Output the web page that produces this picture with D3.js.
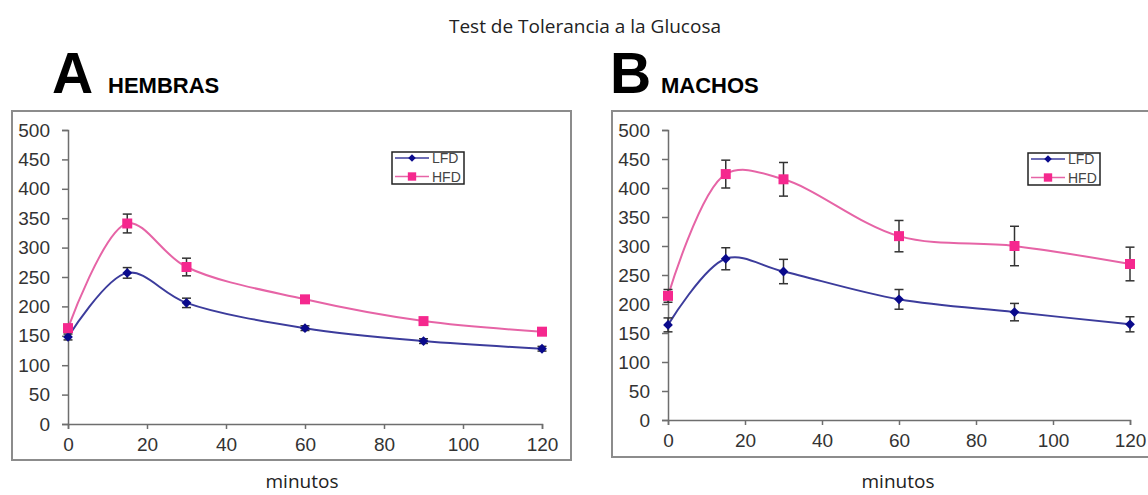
<!DOCTYPE html>
<html>
<head>
<meta charset="utf-8">
<script src="https://cdn.jsdelivr.net/npm/d3@7"></script>
<style>
  body { margin: 0; background: #fff; }
  svg { display: block; }
  .tick text { font-family: "Liberation Sans", Arial, sans-serif; }
</style>
</head>
<body>
<div id="chart"></div>
<script>
// Glucose tolerance test data (mg/dL)
const minutes = [0, 15, 30, 60, 90, 120];
const seriesNames = ['LFD', 'HFD'];

const hembrasLFD = [148, 257, 206, 163, 141, 128];
const hembrasLFDErr = [5, 9, 8, 4, 4, 4];
const hembrasHFD = [163, 341, 267, 212, 175, 157];
const hembrasHFDErr = [6, 16, 15, 6, 4, 4];

const machosLFD = [164, 278, 256, 208, 186, 165];
const machosLFDErr = [12, 19, 21, 17, 15, 13];
const machosHFD = [214, 424, 415, 317, 300, 269];
const machosHFDErr = [11, 24, 29, 27, 34, 29];

const yTicks = [0, 50, 100, 150, 200, 250, 300, 350, 400, 450, 500];
const xTicks = [0, 20, 40, 60, 80, 100, 120];

const width = 1148;
const height = 495;
const colors = {
    LFD: { line: '#3c3c9c', mark: '#0a0a8c' },
    HFD: { line: '#e664a6', mark: '#f5288e' }
};

const svg = d3.select('#chart')
    .append('svg')
    .attr('width', width)
    .attr('height', height);

// Main title
svg.append('text')
    .attr('x', 585)
    .attr('y', 33)
    .attr('text-anchor', 'middle')
    .style('font-family', '"Open Sans", sans-serif')
    .style('font-size', '19px')
    .style('fill', '#222')
    .text('Test de Tolerancia a la Glucosa');

// diamond drawn as a square turned 45 degrees (wider than d3's diamond)
function marker(name, size) {
    return d3.symbol().type(d3.symbolSquare).size(size)();
}

function drawPanel(p) {
    const g = svg.append('g');

    // Panel letter and label
    g.append('text')
        .attr('x', p.letterX)
        .attr('y', 93)
        .style('font-family', '"Liberation Sans", Arial, sans-serif')
        .style('font-weight', 'bold')
        .style('font-size', '57px')
        .style('fill', '#000')
        .text(p.letter);
    g.append('text')
        .attr('x', p.labelX)
        .attr('y', 93)
        .style('font-family', '"Liberation Sans", Arial, sans-serif')
        .style('font-weight', 'bold')
        .style('font-size', '22px')
        .style('fill', '#000')
        .text(p.label);

    // Plot frame
    g.append('rect')
        .attr('x', p.box[0])
        .attr('y', p.box[1])
        .attr('width', p.box[2])
        .attr('height', p.box[3])
        .style('fill', '#fff')
        .style('stroke', '#8c8c8c')
        .style('stroke-width', 2);

    const xScale = d3.scaleLinear()
        .domain([0, 120])
        .range(p.xRange);
    const yScale = d3.scaleLinear()
        .domain([0, 500])
        .range(p.yRange);

    const xAxis = d3.axisBottom(xScale)
        .tickValues(xTicks)
        .tickSize(5)
        .tickSizeOuter(5)
        .tickPadding(9);
    const yAxis = d3.axisLeft(yScale)
        .tickValues(yTicks)
        .tickSize(6)
        .tickSizeOuter(6)
        .tickPadding(12);

    const gx = g.append('g')
        .attr('transform', `translate(0,${p.yRange[0]})`)
        .call(xAxis);
    const gy = g.append('g')
        .attr('transform', `translate(${p.xRange[0]},0)`)
        .call(yAxis);

    [gx, gy].forEach(ax => {
        ax.select('.domain').style('stroke', '#6e6e6e').style('stroke-width', 1.5);
        ax.selectAll('.tick line').style('stroke', '#6e6e6e').style('stroke-width', 1.5);
        ax.selectAll('.tick text')
            .style('font-size', '19px')
            .style('fill', '#333');
    });

    const line = d3.line()
        .x(d => xScale(d.t))
        .y(d => yScale(d.v))
        .curve(d3.curveCatmullRom.alpha(0.5));

    p.series.forEach(s => {
        const pts = minutes.map((t, i) => ({ t: t, v: s.values[i], e: s.errors[i] }));
        const c = colors[s.name];
        const isLFD = s.name === 'LFD';

        g.append('path')
            .datum(pts)
            .attr('d', line)
            .style('fill', 'none')
            .style('stroke', c.line)
            .style('stroke-width', 2);

        // Error bars
        const eb = g.append('g')
            .selectAll('g')
            .data(pts)
            .join('g')
            .style('stroke', '#333')
            .style('stroke-width', 1.5);
        eb.append('line')
            .attr('x1', d => xScale(d.t))
            .attr('x2', d => xScale(d.t))
            .attr('y1', d => yScale(d.v - d.e))
            .attr('y2', d => yScale(d.v + d.e));
        eb.append('line')
            .attr('x1', d => xScale(d.t) - 4.5)
            .attr('x2', d => xScale(d.t) + 4.5)
            .attr('y1', d => yScale(d.v + d.e))
            .attr('y2', d => yScale(d.v + d.e));
        eb.append('line')
            .attr('x1', d => xScale(d.t) - 4.5)
            .attr('x2', d => xScale(d.t) + 4.5)
            .attr('y1', d => yScale(d.v - d.e))
            .attr('y2', d => yScale(d.v - d.e));

        g.append('g')
            .selectAll('path')
            .data(pts)
            .join('path')
            .attr('transform', d => `translate(${xScale(d.t)},${yScale(d.v)})` + (isLFD ? ' rotate(45)' : ''))
            .attr('d', marker(s.name, isLFD ? 48 : 100))
            .style('fill', c.mark);
    });

    // Legend
    const lg = g.append('g')
        .attr('transform', `translate(${p.legend[0]},${p.legend[1]})`);
    lg.append('rect')
        .attr('width', 72)
        .attr('height', 32)
        .style('fill', '#fff')
        .style('stroke', '#222')
        .style('stroke-width', 1.5);
    seriesNames.forEach((name, i) => {
        const y = 6 + i * 18.5;
        const c = colors[name];
        const isLFD = name === 'LFD';
        lg.append('line')
            .attr('x1', 3).attr('x2', 37)
            .attr('y1', y).attr('y2', y)
            .style('stroke', c.line)
            .style('stroke-width', 1.5);
        lg.append('path')
            .attr('transform', `translate(20,${y})` + (isLFD ? ' rotate(45)' : ''))
            .attr('d', marker(name, isLFD ? 28 : 70))
            .style('fill', c.mark);
        lg.append('text')
            .attr('x', 40)
            .attr('y', y + 5)
            .style('font-family', '"Liberation Sans", Arial, sans-serif')
            .style('font-size', '14px')
            .style('fill', '#444')
            .text(name);
    });

    // x axis title
    g.append('text')
        .attr('x', p.titleX)
        .attr('y', 488)
        .attr('text-anchor', 'middle')
        .style('font-family', '"Open Sans", sans-serif')
        .style('font-size', '19px')
        .style('fill', '#222')
        .text('minutos');
}

drawPanel({
    letter: 'A', label: 'HEMBRAS', letterX: 52, labelX: 108,
    box: [12, 111, 559, 349],
    xRange: [68, 542], yRange: [424, 130],
    legend: [392, 152],
    titleX: 302,
    series: [
        { name: 'LFD', values: hembrasLFD, errors: hembrasLFDErr },
        { name: 'HFD', values: hembrasHFD, errors: hembrasHFDErr }
    ]
});

drawPanel({
    letter: 'B', label: 'MACHOS', letterX: 610, labelX: 661,
    box: [612, 111, 560, 346],
    xRange: [668, 1130], yRange: [420, 130],
    legend: [1028, 153],
    titleX: 898,
    series: [
        { name: 'LFD', values: machosLFD, errors: machosLFDErr },
        { name: 'HFD', values: machosHFD, errors: machosHFDErr }
    ]
});
</script>
</body>
</html>
